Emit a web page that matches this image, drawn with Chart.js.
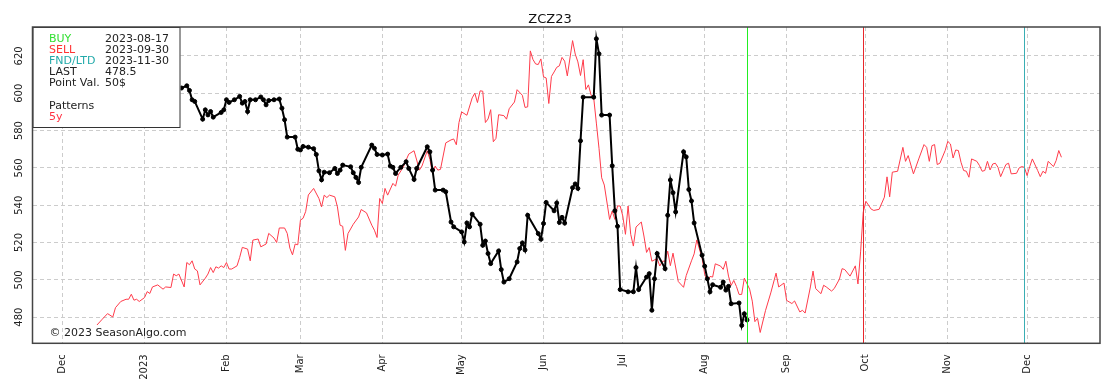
<!DOCTYPE html>
<html>
<head>
<meta charset="utf-8">
<title>ZCZ23</title>
<script src="https://cdn.jsdelivr.net/npm/chart.js@4.4.0/dist/chart.umd.min.js"></script>
<style>
  html, body { margin: 0; padding: 0; background: #fff; }
</style>
</head>
<body>
<canvas id="myChart" width="1120" height="389"></canvas>
<script>
// ZCZ23 price (black, with dots)
const priceDates = [
  '2023-01-12','2023-01-15','2023-01-17','2023-01-18','2023-01-19','2023-01-20','2023-01-23','2023-01-24','2023-01-25','2023-01-26',
  '2023-01-27','2023-01-30','2023-01-31','2023-02-01','2023-02-02','2023-02-04','2023-02-06','2023-02-07','2023-02-08','2023-02-09',
  '2023-02-10','2023-02-12','2023-02-14','2023-02-15','2023-02-16','2023-02-17','2023-02-19','2023-02-21','2023-02-22','2023-02-23',
  '2023-02-24','2023-02-27','2023-02-28','2023-03-01','2023-03-02','2023-03-04','2023-03-06','2023-03-07','2023-03-08','2023-03-09',
  '2023-03-10','2023-03-12','2023-03-14','2023-03-15','2023-03-16','2023-03-17','2023-03-20','2023-03-21','2023-03-22','2023-03-23',
  '2023-03-24','2023-03-28','2023-03-29','2023-03-30','2023-04-01','2023-04-03','2023-04-04','2023-04-05','2023-04-06','2023-04-08',
  '2023-04-10','2023-04-11','2023-04-13','2023-04-14','2023-04-18','2023-04-19','2023-04-20','2023-04-21','2023-04-24','2023-04-25',
  '2023-04-27','2023-04-28','2023-05-01','2023-05-02','2023-05-03','2023-05-04','2023-05-05','2023-05-08','2023-05-09','2023-05-10',
  '2023-05-11','2023-05-12','2023-05-15','2023-05-16','2023-05-17','2023-05-19','2023-05-22','2023-05-23','2023-05-24','2023-05-25',
  '2023-05-26','2023-05-30','2023-05-31','2023-06-01','2023-06-02','2023-06-05','2023-06-06','2023-06-07','2023-06-08','2023-06-09',
  '2023-06-12','2023-06-13','2023-06-14','2023-06-15','2023-06-16','2023-06-20','2023-06-21','2023-06-22','2023-06-23','2023-06-26',
  '2023-06-27','2023-06-28','2023-06-29','2023-06-30','2023-07-03','2023-07-05','2023-07-06','2023-07-07','2023-07-10','2023-07-11',
  '2023-07-12','2023-07-13','2023-07-14','2023-07-17','2023-07-18','2023-07-19','2023-07-20','2023-07-21','2023-07-24','2023-07-25',
  '2023-07-26','2023-07-27','2023-07-28','2023-07-31','2023-08-01','2023-08-02','2023-08-03','2023-08-04','2023-08-07','2023-08-08',
  '2023-08-09','2023-08-10','2023-08-11','2023-08-14','2023-08-15','2023-08-16','2023-08-17'
];
const priceValues = [
  600.5, 602.8, 604, 601.5, 596.5, 595.6, 586.1, 591.1, 588.4, 590.2,
  587.2, 589.7, 591.1, 596.5, 595.1, 596.5, 598.3, 594.7, 595.6, 590.2,
  596.5, 596.5, 598, 596.5, 593.8, 596.1, 596.5, 596.9, 592, 585.8,
  576.5, 576.5, 570, 569.6, 571.5, 571.1, 570.3, 567.2, 558.4, 553.6,
  557.7, 557.4, 559.7, 557, 558.8, 561.5, 560.6, 557.4, 554.9, 552.2,
  560.3, 572.2, 570.5, 567.2, 566.9, 567.4, 561, 560.3, 557, 560.3,
  563.3, 559.7, 553.8, 559.7, 571.3, 568.6, 558.8, 548.1, 548.1, 547.2,
  531, 528.4, 525.7, 520.3, 530.5, 528.4, 535.2, 529.8, 518.5, 520.8,
  514.1, 508.7, 515.5, 505.5, 498.8, 500.6, 509.6, 516.8, 519.8, 516,
  534.6, 524.8, 521.8, 530.2, 541.5, 537, 541.2, 530.8, 533.5, 530.4,
  549.4, 551.4, 549, 574.5, 597.9, 597.9, 629.2, 621.1, 588.3, 588.3,
  561.1, 537, 528.7, 494.8, 493.6, 493.6, 506.6, 494.8, 501.5, 503.3,
  483.7, 500.6, 514.1, 506, 534.6, 553.5, 546.7, 536.4, 568.6, 565.9,
  548.4, 542.3, 530.5, 513.2, 507.3, 500.6, 493.6, 497.4, 496, 498.8,
  494.5, 496.5, 487.2, 487.6, 475.6, 481.8, 478.5
];

// 5y seasonal pattern (red)
const patternDates = [
  '2022-12-14','2022-12-16','2022-12-18','2022-12-20','2022-12-21','2022-12-23','2022-12-25','2022-12-26','2022-12-27','2022-12-28',
  '2022-12-29','2022-12-30','2023-01-01','2023-01-02','2023-01-03','2023-01-04','2023-01-06','2023-01-08','2023-01-09','2023-01-11',
  '2023-01-12','2023-01-13','2023-01-14','2023-01-16','2023-01-17','2023-01-18','2023-01-19','2023-01-20','2023-01-21','2023-01-22',
  '2023-01-24','2023-01-25','2023-01-26','2023-01-27','2023-01-28','2023-01-29','2023-01-30','2023-01-31','2023-02-01','2023-02-02',
  '2023-02-03','2023-02-05','2023-02-06','2023-02-07','2023-02-09','2023-02-10','2023-02-11','2023-02-13','2023-02-14','2023-02-16',
  '2023-02-17','2023-02-19','2023-02-20','2023-02-21','2023-02-23','2023-02-24','2023-02-25','2023-02-26','2023-02-27','2023-02-28',
  '2023-03-01','2023-03-02','2023-03-03','2023-03-04','2023-03-06','2023-03-08','2023-03-09','2023-03-10','2023-03-11','2023-03-12',
  '2023-03-14','2023-03-15','2023-03-16','2023-03-17','2023-03-18','2023-03-19','2023-03-21','2023-03-23','2023-03-24','2023-03-26',
  '2023-03-28','2023-03-29','2023-03-30','2023-03-31','2023-04-01','2023-04-02','2023-04-03','2023-04-05','2023-04-06','2023-04-07',
  '2023-04-09','2023-04-10','2023-04-11','2023-04-13','2023-04-14','2023-04-15','2023-04-16','2023-04-18','2023-04-19','2023-04-20',
  '2023-04-21','2023-04-22','2023-04-23','2023-04-25','2023-04-27','2023-04-28','2023-04-29','2023-04-30','2023-05-01','2023-05-03',
  '2023-05-05','2023-05-06','2023-05-07','2023-05-08','2023-05-09','2023-05-10','2023-05-11','2023-05-12','2023-05-13','2023-05-14',
  '2023-05-15','2023-05-17','2023-05-18','2023-05-19','2023-05-21','2023-05-22','2023-05-24','2023-05-25','2023-05-26','2023-05-27',
  '2023-05-28','2023-05-29','2023-05-30','2023-05-31','2023-06-01','2023-06-02','2023-06-03','2023-06-04','2023-06-05','2023-06-06',
  '2023-06-07','2023-06-08','2023-06-09','2023-06-10','2023-06-12','2023-06-13','2023-06-14','2023-06-15','2023-06-16','2023-06-17',
  '2023-06-18','2023-06-19','2023-06-20','2023-06-21','2023-06-22','2023-06-23','2023-06-24','2023-06-26','2023-06-27','2023-06-28',
  '2023-06-29','2023-06-30','2023-07-01','2023-07-02','2023-07-03','2023-07-04','2023-07-05','2023-07-06','2023-07-08','2023-07-09',
  '2023-07-10','2023-07-11','2023-07-12','2023-07-14','2023-07-15','2023-07-16','2023-07-17','2023-07-18','2023-07-19','2023-07-20',
  '2023-07-22','2023-07-24','2023-07-25','2023-07-27','2023-07-28','2023-07-29','2023-07-31','2023-08-01','2023-08-02','2023-08-03',
  '2023-08-04','2023-08-05','2023-08-07','2023-08-08','2023-08-09','2023-08-10','2023-08-11','2023-08-12','2023-08-13','2023-08-14',
  '2023-08-15','2023-08-16','2023-08-18','2023-08-19','2023-08-20','2023-08-21','2023-08-22','2023-08-24','2023-08-26','2023-08-28',
  '2023-08-29','2023-08-31','2023-09-01','2023-09-03','2023-09-04','2023-09-06','2023-09-07','2023-09-08','2023-09-10','2023-09-11',
  '2023-09-12','2023-09-14','2023-09-15','2023-09-16','2023-09-18','2023-09-19','2023-09-21','2023-09-22','2023-09-23','2023-09-25',
  '2023-09-27','2023-09-28','2023-09-29','2023-09-30','2023-10-01','2023-10-03','2023-10-04','2023-10-06','2023-10-08','2023-10-09',
  '2023-10-10','2023-10-11','2023-10-13','2023-10-15','2023-10-16','2023-10-17','2023-10-19','2023-10-21','2023-10-23','2023-10-24',
  '2023-10-25','2023-10-26','2023-10-27','2023-10-28','2023-10-29','2023-10-31','2023-11-01','2023-11-02','2023-11-03','2023-11-04',
  '2023-11-05','2023-11-06','2023-11-07','2023-11-08','2023-11-09','2023-11-10','2023-11-12','2023-11-13','2023-11-14','2023-11-15',
  '2023-11-16','2023-11-17','2023-11-18','2023-11-19','2023-11-20','2023-11-21','2023-11-22','2023-11-23','2023-11-24','2023-11-25',
  '2023-11-27','2023-11-28','2023-11-29','2023-11-30','2023-12-01','2023-12-02','2023-12-03','2023-12-05','2023-12-06','2023-12-07',
  '2023-12-08','2023-12-09','2023-12-11','2023-12-12','2023-12-13','2023-12-14'
];
const patternValues = [
  475.8, 478.9, 481.9, 480.1, 485.1, 488.4, 489.6, 489.6, 492.3, 489.1,
  489.6, 488.4, 490.5, 493.7, 492.7, 496.2, 497.3, 495, 496.2, 495.9,
  503.1, 502.2, 503.1, 496.2, 509.3, 508.1, 510.2, 505.8, 504.8, 497.3,
  500.9, 503.1, 506.6, 503.9, 507, 506.3, 507.5, 506.6, 509.3, 505.8,
  505.8, 507.5, 512, 517.4, 516.5, 510.2, 521.3, 521.9, 517.7, 519.2,
  524.9, 522.4, 520, 527.8, 527.8, 524.9, 517, 513.4, 519.2, 518.8,
  532, 533, 536.7, 545.5, 549, 543.6, 539.1, 545.4, 544.1, 545.4,
  544.5, 539.1, 529.3, 528.7, 515.8, 524.8, 529.8, 533.7, 537.7, 535.9,
  529.3, 526.6, 522.7, 543.6, 540.9, 549, 545.4, 551.7, 550.2, 556.1,
  560.6, 564.2, 567.4, 569.2, 564.2, 558.8, 561, 569.2, 564.6, 557,
  561, 558.8, 559.2, 573.4, 575, 575.5, 572.4, 584.3, 590, 588.2,
  597.5, 600, 595, 601.3, 601.1, 584.3, 586.2, 591.2, 574, 575.8,
  588.5, 588, 586.1, 591.7, 595.3, 601.9, 598.9, 592.4, 592.7, 622.7,
  618.1, 615.7, 615.4, 618.4, 608.8, 608.2, 594.5, 609, 611.4, 613.9,
  614.7, 619.2, 617.2, 609.3, 628.2, 621, 616.8, 609.5, 618, 602,
  604.5, 599, 597.4, 584, 570.5, 554.7, 550.8, 532.4, 536.9, 532.4,
  539.6, 539.6, 534.2, 524.4, 539.6, 524.4, 518.1, 528.3, 531, 523.5,
  514.7, 517.3, 510, 511.4, 507.4, 510, 510, 515.4, 507.6, 514.3,
  499.1, 496, 502.3, 510.2, 513.9, 521.4, 511.6, 503, 499.5, 501.8,
  501.5, 508.6, 507.4, 505.6, 510, 502, 497, 499.7, 496.5, 492.2,
  492.2, 500.9, 495, 488.6, 477.6, 479.4, 471.8, 483.5, 493, 503.6,
  496.2, 498.3, 489, 487.3, 488.7, 482.8, 483.7, 482.2, 496.2, 504.7,
  495.3, 492.6, 497.1, 496.2, 494, 495.3, 500.4, 506, 505.5, 502,
  507.5, 497.8, 515, 536.3, 542.1, 537.9, 537.2, 537.8, 544.3, 555.2,
  544.5, 557.7, 558.2, 571, 563.5, 566.6, 556.8, 564.8, 572.5, 571,
  563.5, 571.9, 572.5, 561.8, 562.5, 569.3, 574.2, 572.8, 565.3, 569.6,
  569.3, 563, 558.6, 558.2, 555, 564.8, 563.5, 561.2, 558.2, 558.6,
  563.5, 558.9, 562.1, 562.5, 560.3, 555.3, 558.6, 561.8, 562.5, 556.8,
  557.1, 560, 560.7, 560.3, 555.9, 560.7, 564.8, 558.6, 555.3, 558.2,
  557.1, 563.5, 560.7, 563.9, 569.3, 565.7
];

const monthTicks = ['2022-12-01','2023-01-01','2023-02-01','2023-03-01','2023-04-01','2023-05-01','2023-06-01',
  '2023-07-01','2023-08-01','2023-09-01','2023-10-01','2023-11-01','2023-12-01'];
const monthLabels = ['Dec','2023','Feb','Mar','Apr','May','Jun','Jul','Aug','Sep','Oct','Nov','Dec'];
const yTicks = [480, 500, 520, 540, 560, 580, 600, 620];

const signalDates = ['2023-08-17', '2023-09-30', '2023-11-30'];   // BUY, SELL, FND/LTD
const infoLabels = ['BUY', 'SELL', 'FND/LTD', 'LAST', 'Point Val.'];
const infoValues = ['2023-08-17', '2023-09-30', '2023-11-30', '478.5', '50$'];

const day = s => Date.UTC(+s.slice(0, 4), +s.slice(5, 7) - 1, +s.slice(8, 10)) / 86400000;
const toPoints = (dates, values) => dates.map((d, i) => ({ x: day(d), y: values[i] }));

const FONT = 'DejaVu Sans';
const signalColors = ['#22ee22', '#e8262b', '#3aaeb4'];
const infoColors = ['#33e033', '#ff3333', '#22aaaa', '#222', '#222'];

Chart.defaults.font.family = FONT;
Chart.defaults.color = '#222';

const overlay = {
  id: 'overlay',
  afterDatasetsDraw(chart) {
    const { ctx, chartArea: a, scales: { x } } = chart;
    ctx.save();

    // buy / sell / fnd lines
    ctx.lineWidth = 1;
    signalDates.forEach((d, i) => {
      const px = Math.round(x.getPixelForValue(day(d))) + 0.5;
      ctx.strokeStyle = signalColors[i];
      ctx.beginPath();
      ctx.moveTo(px, a.top);
      ctx.lineTo(px, a.bottom);
      ctx.stroke();
    });

    // info box
    ctx.fillStyle = '#fff';
    ctx.fillRect(a.left, a.top, 148, 101);
    ctx.strokeStyle = '#333';
    ctx.strokeRect(a.left + 0.5, a.top + 0.5, 147, 100);

    ctx.font = '11px ' + FONT;
    ctx.textBaseline = 'middle';
    ctx.textAlign = 'left';
    infoLabels.forEach((t, i) => {
      const ty = a.top + 12.5 + i * 11;
      ctx.fillStyle = infoColors[i];
      ctx.fillText(t, a.left + 16.5, ty);
      ctx.fillStyle = '#222';
      ctx.fillText(infoValues[i], a.left + 72.5, ty);
    });
    ctx.fillStyle = '#222';
    ctx.fillText('Patterns', a.left + 16.5, a.top + 79);
    ctx.fillStyle = '#ff3344';
    ctx.fillText('5y', a.left + 16.5, a.top + 90);

    // copyright
    ctx.fillStyle = '#222';
    ctx.fillText('\u00a9 2023 SeasonAlgo.com', a.left + 17, a.bottom - 10);

    // frame
    ctx.strokeStyle = '#444';
    ctx.lineWidth = 1.5;
    ctx.strokeRect(a.left, a.top, a.right - a.left, a.bottom - a.top);
    ctx.restore();
  }
};

const ctx = document.getElementById('myChart').getContext('2d');
const myChart = new Chart(ctx, {
  type: 'line',
  data: {
    datasets: [{
      label: 'ZCZ23',
      data: toPoints(priceDates, priceValues),
      borderColor: '#000',
      backgroundColor: '#000',
      borderWidth: 2,
      pointRadius: 2,
      pointBorderWidth: 1,
      pointBackgroundColor: '#000',
      pointBorderColor: '#000',
      tension: 0
    }, {
      label: '5y',
      data: toPoints(patternDates, patternValues),
      borderColor: '#ff3b4a',
      borderWidth: 1,
      pointRadius: 0,
      tension: 0
    }]
  },
  options: {
    responsive: false,
    animation: false,
    devicePixelRatio: 1,
    layout: { padding: { left: 0, right: 20, top: 0, bottom: 0 } },
    scales: {
      x: {
        type: 'linear',
        min: day('2022-11-20') - 0.4,
        max: day('2023-12-29') - 0.4,
        afterBuildTicks: s => { s.ticks = monthTicks.map(m => ({ value: day(m) })); },
        afterFit: s => { s.height = 45.7; },
        ticks: {
          autoSkip: false,
          minRotation: 90,
          maxRotation: 90,
          padding: 11,
          font: { size: 10 },
          callback: (v, i) => monthLabels[i]
        },
        grid: { color: '#cccccc', lineWidth: 1, drawTicks: false },
        border: { display: false, dash: [4, 3] }
      },
      y: {
        min: 466,
        max: 635.5,
        afterBuildTicks: s => { s.ticks = yTicks.map(v => ({ value: v })); },
        afterFit: s => { s.width = 32.5; },
        ticks: {
          minRotation: 90,
          maxRotation: 90,
          crossAlign: 'center',
          padding: 4,
          font: { size: 10 },
          callback: v => String(v)
        },
        grid: { color: '#cccccc', lineWidth: 1, drawTicks: false },
        border: { display: false, dash: [4, 3] }
      }
    },
    plugins: {
      legend: { display: false },
      tooltip: { enabled: false },
      title: {
        display: true,
        text: 'ZCZ23',
        color: '#111',
        font: { size: 13, weight: 'normal', lineHeight: 1 },
        padding: { top: 13.5, bottom: 0.5 }
      }
    }
  },
  plugins: [overlay]
});
</script>
</body>
</html>
